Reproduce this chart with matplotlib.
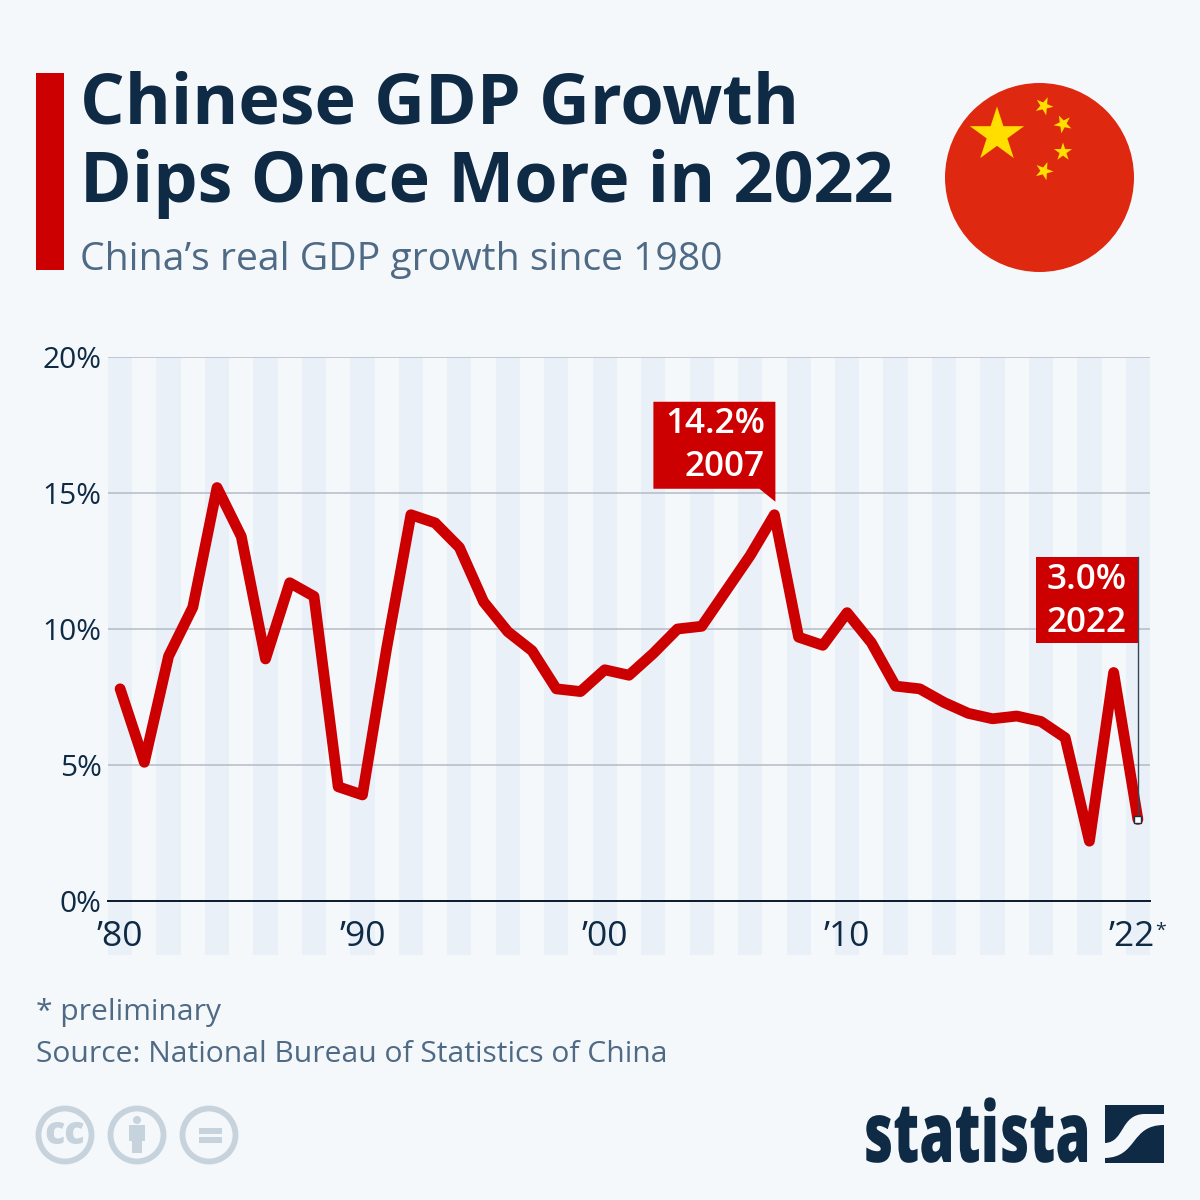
import numpy as np
import matplotlib
matplotlib.use("Agg")
import matplotlib.pyplot as plt
from matplotlib.patches import Rectangle, Circle, Polygon, PathPatch
from matplotlib.path import Path
from matplotlib.patheffects import AbstractPathEffect
from matplotlib.transforms import Affine2D, ScaledTranslation

years = list(range(1980, 2023))
growth = [7.8, 5.1, 9.0, 10.8, 15.2, 13.4, 8.9, 11.7, 11.2, 4.2, 3.9, 9.3, 14.2, 13.9, 13.0,
          11.0, 9.9, 9.2, 7.8, 7.7, 8.5, 8.3, 9.1, 10.0, 10.1, 11.4, 12.7, 14.2, 9.7, 9.4,
          10.6, 9.5, 7.9, 7.8, 7.3, 6.9, 6.7, 6.8, 6.6, 6.0, 2.2, 8.4, 3.0]
y_ticks = [0, 5, 10, 15, 20]
y_labels = ["0%", "5%", "10%", "15%", "20%"]
x_ticks = [1980, 1990, 2000, 2010, 2022]
x_labels = ["’80", "’90", "’00", "’10", "’22"]

BG = "#f5f8fb"; STRIPE = "#eaf0f7"; NAVY = "#0f2a44"; SLATE = "#4f6a85"
RED = "#cc0000"; ICON = "#c6d2dc"
plt.rcParams["font.family"] = ["Open Sans", "DejaVu Sans"]

fig = plt.figure(figsize=(12, 12), dpi=100, facecolor=BG)
deco = fig.add_axes([0, 0, 1, 1], zorder=3)
deco.set_xlim(0, 1200); deco.set_ylim(1200, 0); deco.axis("off")

L, R, T, B = 108, 1150, 357, 901
ax = fig.add_axes([L/1200, 1-B/1200, (R-L)/1200, (B-T)/1200], zorder=2)
ax.patch.set_alpha(0)
ax.set_xlim(1979.5, 2022.5); ax.set_ylim(0, 20)
for s in ["top", "left", "right"]:
    ax.spines[s].set_visible(False)
ax.spines["bottom"].set_color("#0a1a2a"); ax.spines["bottom"].set_linewidth(1.4)
ax.set_axisbelow(True)
ax.grid(axis="y", color="#b4bbc5", lw=1.1); ax.grid(axis="x", visible=False)
even = [y for y in years if y % 2 == 0]
ax.bar(even, [21.985]*len(even), width=1, bottom=-1.985, color=STRIPE, clip_on=False, zorder=0, lw=0)
ax.plot(years, growth, color=RED, lw=7.8, solid_joinstyle="round", solid_capstyle="round", zorder=3, clip_on=False)
ax.set_yticks(y_ticks, y_labels, fontsize=21.5, color=NAVY)
ax.set_xticks(x_ticks, x_labels, fontsize=25.5, color=NAVY)
ax.tick_params(axis="both", length=0)
ax.tick_params(axis="y", pad=4.5); ax.tick_params(axis="x", pad=13.5)
last = ax.get_xticklabels()[-1]
last.set_transform(last.get_transform() + ScaledTranslation(-6/100, 0, fig.dpi_scale_trans))

def px(year, val):
    d = ax.transData.transform((year, val))
    return d[0], 1200 - d[1]

# Header
deco.add_patch(Rectangle((36, 73), 28, 197, color=RED, lw=0))
deco.text(80, 124, "Chinese GDP Growth", fontsize=50.5, fontweight="bold", color=NAVY, va="baseline")
deco.text(80, 202, "Dips Once More in 2022", fontsize=50.5, fontweight="bold", color=NAVY, va="baseline")
deco.text(80, 270, "China’s real GDP growth since 1980", fontsize=28.2, color=SLATE, va="baseline")

# Flag
def star(cx, cy, r, rot=0):
    ang = np.deg2rad(-90 + rot + np.arange(10) * 36)
    rad = np.where(np.arange(10) % 2 == 0, r, r * 0.382)
    return np.c_[cx + rad*np.cos(ang), cy + rad*np.sin(ang)]
deco.add_patch(Circle((1039.5, 177.5), 94.5, color="#de2910", lw=0))
deco.add_patch(Polygon(star(997, 135, 28.5), color="#ffde00", lw=0))
for cx, cy, rot in [(1044, 106, 23), (1063, 124, 46), (1063, 152, 0), (1044, 171, 21)]:
    deco.add_patch(Polygon(star(cx, cy, 9.5, rot), color="#ffde00", lw=0))

# Asterisk on the last x label
deco.text(1155.5, 936, "*", fontsize=14, color=NAVY, va="baseline")

# Callout 2007
xp, yp = px(2007, 14.2)
deco.add_patch(Polygon([(xp-121, yp-113), (xp+1, yp-113), (xp+1, yp-13), (xp-15, yp-26), (xp-121, yp-26)], color=RED, lw=0))
deco.text(xp-9.5, yp-82, "14.2%", fontsize=25.3, fontweight="semibold", color="white", ha="right", va="baseline")
deco.text(xp-9.5, yp-39, "2007", fontsize=25.3, fontweight="semibold", color="white", ha="right", va="baseline")

# Callout 2022
xp, yp = px(2022, 3.0)
deco.plot([xp, xp], [yp, 557], color="#33475b", lw=1.0)
deco.add_patch(Rectangle((xp-102, 557), 102, 86, color=RED, lw=0))
deco.text(xp-11, 589, "3.0%", fontsize=25.3, fontweight="semibold", color="white", ha="right", va="baseline")
deco.text(xp-11, 632, "2022", fontsize=25.3, fontweight="semibold", color="white", ha="right", va="baseline")
deco.add_patch(Rectangle((xp-3.5, yp-3.5), 7, 7, fc="white", ec="#1a2f45", lw=1.0, zorder=5))

# Footer
deco.text(36, 1020, "* preliminary", fontsize=21.65, color=SLATE, va="baseline")
deco.text(36, 1062, "Source: National Bureau of Statistics of China", fontsize=21.65, color=SLATE, va="baseline")

# CC icons
for cx in [65, 137, 209]:
    deco.add_patch(Circle((cx, 1135), 26.5, fc="none", ec=ICON, lw=4.2))
deco.text(65, 1134, "cc", fontsize=27, fontweight="extra bold", color=ICON, ha="center", va="center")
deco.add_patch(Circle((137, 1120), 4, color=ICON, lw=0))
deco.add_patch(Polygon([(129, 1125), (145, 1125), (145, 1141), (142, 1141), (142, 1153), (132, 1153), (132, 1141), (129, 1141)], color=ICON, lw=0))
deco.add_patch(Rectangle((199, 1128), 23, 5.5, color=ICON, lw=0))
deco.add_patch(Rectangle((199, 1137), 23, 5.5, color=ICON, lw=0))

# Statista logo: real text, squeezed horizontally at draw time
class Squeeze(AbstractPathEffect):
    def __init__(self, x0, sx):
        super().__init__()
        self.x0, self.sx = x0, sx
    def draw_path(self, renderer, gc, tpath, affine, rgbFace=None):
        squeeze = Affine2D().translate(-self.x0, 0).scale(self.sx, 1).translate(self.x0, 0)
        renderer.draw_path(gc, tpath, affine + squeeze, rgbFace)
logo = deco.text(863, 1162, "statista", fontsize=60, fontweight="extra bold", color=NAVY, va="baseline")
logo.set_path_effects([Squeeze(863, 0.68)])

def mk(pts):
    verts, codes = zip(*pts)
    return PathPatch(Path(verts, codes), color=NAVY, lw=0)
M, LN, C = Path.MOVETO, Path.LINETO, Path.CURVE4
deco.add_patch(mk([((1105, 1105), M), ((1164, 1105), LN), ((1164, 1114), LN), ((1145, 1114), LN),
                   ((1120, 1114), C), ((1125, 1142), C), ((1105, 1143), C), ((1105, 1105), LN)]))
deco.add_patch(mk([((1164, 1125), M), ((1164, 1163), LN), ((1105, 1163), LN), ((1105, 1158), LN),
                   ((1138, 1157), C), ((1130, 1125), C), ((1164, 1125), C)]))
fig.savefig("out.png", dpi=100, facecolor=BG)
